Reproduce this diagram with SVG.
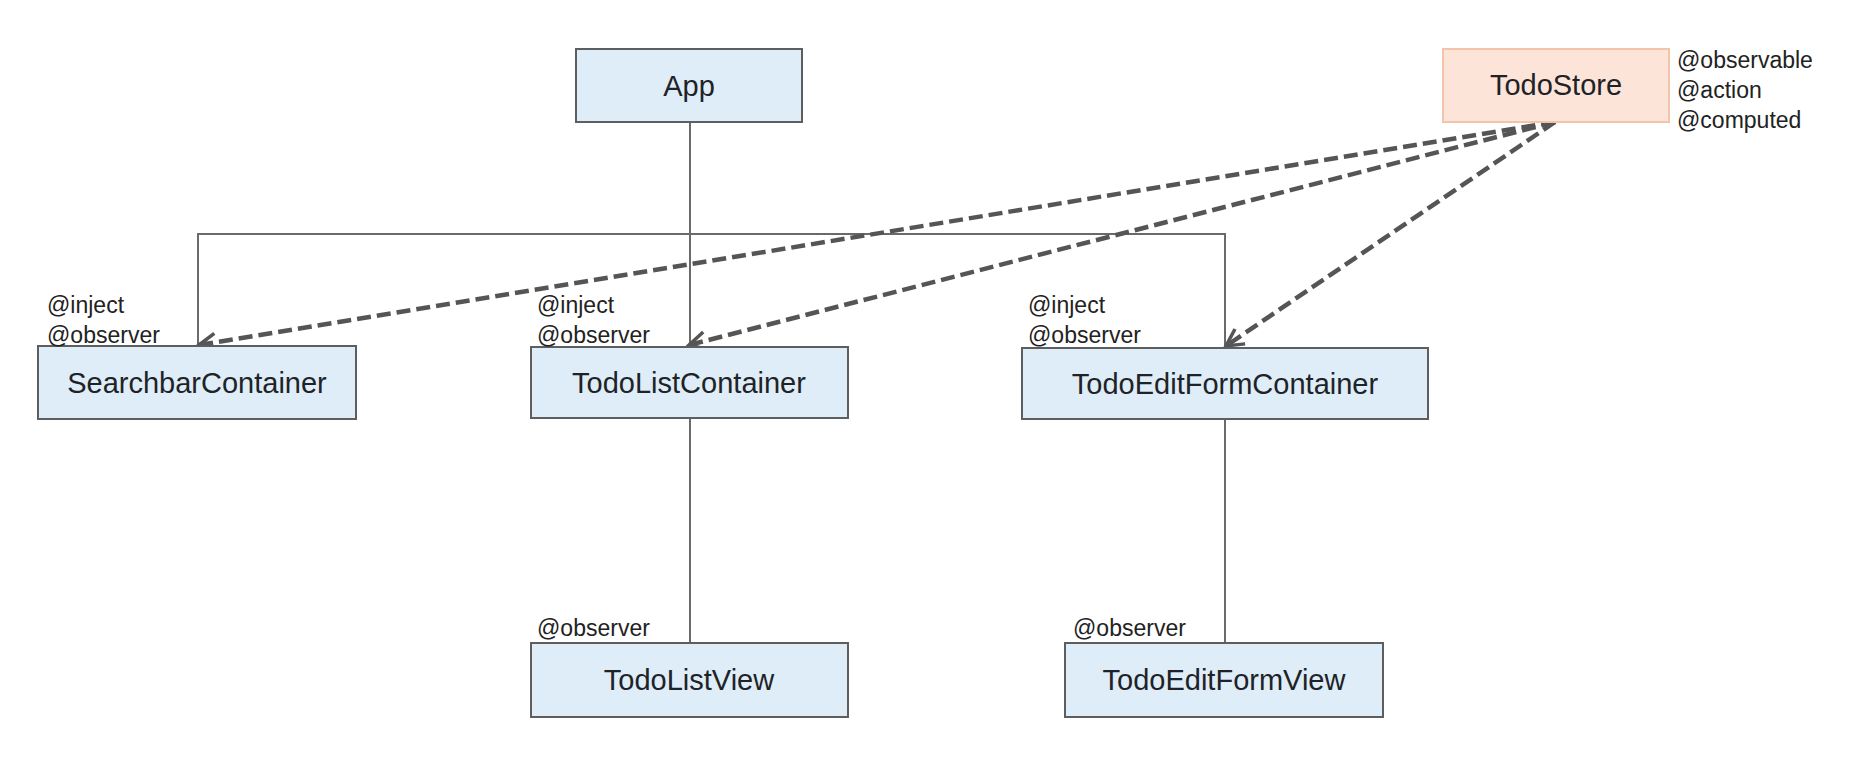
<svg xmlns="http://www.w3.org/2000/svg" width="1861" height="769" viewBox="0 0 1861 769">
  <style>
    .box { fill: #deedf7; stroke: #5e5e5e; stroke-width: 2; }
    .store { fill: #fce4d8; stroke: #f2c4ab; stroke-width: 2; }
    .name { font-family: "Liberation Sans", Arial, sans-serif; font-size: 29px; fill: #1e2328; text-anchor: middle; }
    .tag { font-family: "Liberation Sans", Arial, sans-serif; font-size: 23px; fill: #222; }
    .tree { fill: none; stroke: #6a6a6a; stroke-width: 2; }
    .inject { fill: none; stroke: #555; stroke-width: 4.5; stroke-dasharray: 14 6; marker-end: url(#open-arrow); }
  </style>
  <defs>
    <marker id="open-arrow" viewBox="0 0 24 24" refX="21" refY="12" markerWidth="24" markerHeight="24" markerUnits="userSpaceOnUse" orient="auto">
      <path d="M4,3 L21,12 L4,21" fill="none" stroke="#555" stroke-width="3.5" stroke-dasharray="none" stroke-linejoin="miter"/>
    </marker>
  </defs>
  <rect width="1861" height="769" fill="#ffffff"/>

  <!-- connectors -->
  <g id="connectors">
    <path class="tree" d="M690,122 V347"/>
    <path class="tree" d="M198,346 V234 H1225 V348"/>
    <path class="tree" d="M690,418 V643"/>
    <path class="tree" d="M1225,419 V643"/>
    <path class="inject" d="M1555,122 L199,345"/>
    <path class="inject" d="M1555,122 L689,345"/>
    <path class="inject" d="M1555,122 L1226,346"/>
  </g>

  <!-- nodes -->
  <g id="app">
    <rect class="box" x="576" y="49" width="226" height="73"/>
    <text class="name" x="689" y="96">App</text>
  </g>

  <g id="todo-store">
    <rect class="store" x="1443" y="49" width="226" height="73"/>
    <text class="name" x="1556" y="95">TodoStore</text>
    <text class="tag" x="1677" y="68">@observable</text>
    <text class="tag" x="1677" y="98">@action</text>
    <text class="tag" x="1677" y="128">@computed</text>
  </g>

  <g id="searchbar-container">
    <rect class="box" x="38" y="346" width="318" height="73"/>
    <text class="name" x="197" y="393">SearchbarContainer</text>
    <text class="tag" x="47" y="313">@inject</text>
    <text class="tag" x="47" y="343">@observer</text>
  </g>

  <g id="todo-list-container">
    <rect class="box" x="531" y="347" width="317" height="71"/>
    <text class="name" x="689" y="393">TodoListContainer</text>
    <text class="tag" x="537" y="313">@inject</text>
    <text class="tag" x="537" y="343">@observer</text>
  </g>

  <g id="todo-edit-form-container">
    <rect class="box" x="1022" y="348" width="406" height="71"/>
    <text class="name" x="1225" y="394">TodoEditFormContainer</text>
    <text class="tag" x="1028" y="313">@inject</text>
    <text class="tag" x="1028" y="343">@observer</text>
  </g>

  <g id="todo-list-view">
    <rect class="box" x="531" y="643" width="317" height="74"/>
    <text class="name" x="689" y="690">TodoListView</text>
    <text class="tag" x="537" y="636">@observer</text>
  </g>

  <g id="todo-edit-form-view">
    <rect class="box" x="1065" y="643" width="318" height="74"/>
    <text class="name" x="1224" y="690">TodoEditFormView</text>
    <text class="tag" x="1073" y="636">@observer</text>
  </g>
</svg>
